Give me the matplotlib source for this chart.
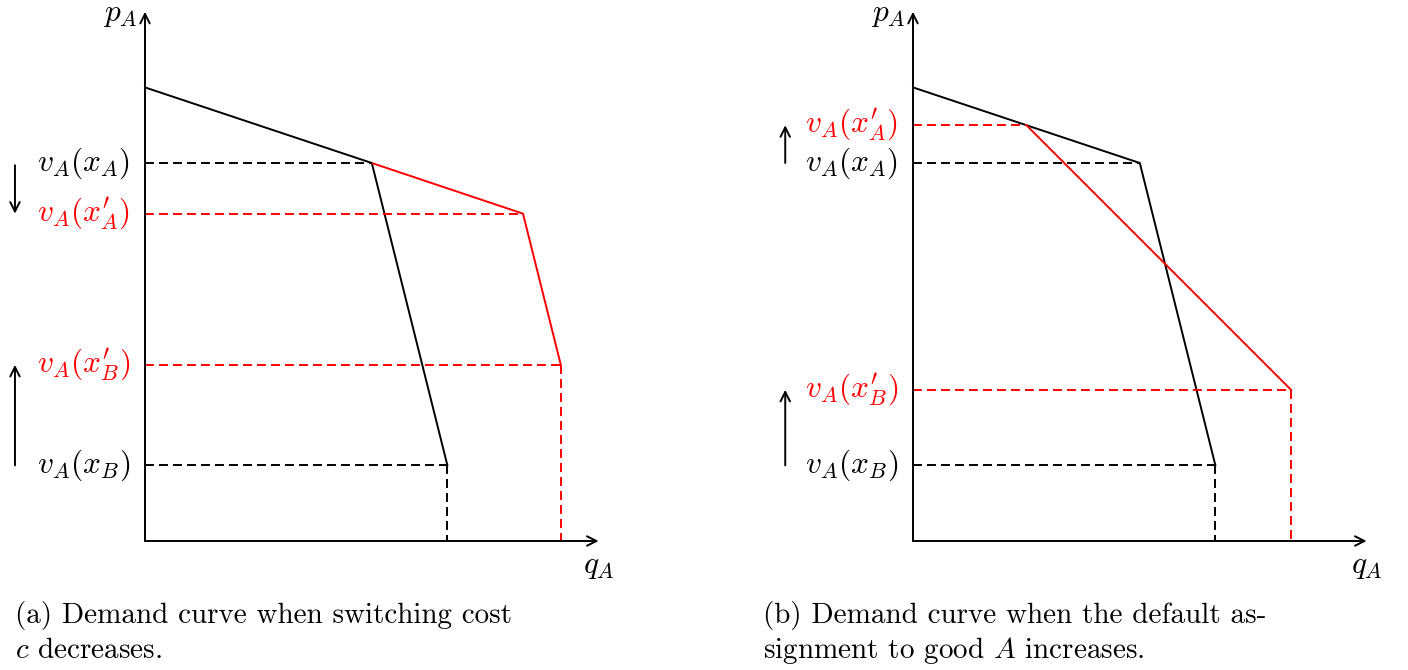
import matplotlib
matplotlib.use("Agg")
import matplotlib.pyplot as plt

plt.rcParams['mathtext.fontset'] = 'cm'
plt.rcParams['font.family'] = ['cmr10', 'DejaVu Serif']

# diagram data (tikz units)
axis_top = 7.0
axis_right = 6.0
black_curve_q = [0, 3, 4]
black_curve_p = [6, 5, 1]

red_a_q = [3, 5, 5.5]
red_a_p = [5, 4.33, 2.33]

red_b_q = [1.5, 5]
red_b_p = [5.5, 2]

labels_a = [r'$v_A(x_A)$', r"$v_A(x^{\prime}_A)$", r"$v_A(x^{\prime}_B)$", r'$v_A(x_B)$']
levels_a = [5, 4.33, 2.33, 1]
colors_a = ['black', 'red', 'red', 'black']

labels_b = [r"$v_A(x^{\prime}_A)$", r'$v_A(x_A)$', r"$v_A(x^{\prime}_B)$", r'$v_A(x_B)$']
levels_b = [5.5, 5, 2, 1]
colors_b = ['red', 'black', 'red', 'black']

captions = [["(a) Demand curve when switching cost", "$c$ decreases."],
            ["(b) Demand curve when the default as-", "signment to good $A$ increases."]]

W, H = 1408, 670
scale = 75.6  # px per unit
fig = plt.figure(figsize=(W / 100, H / 100), dpi=100)

LW = 1.4
DASH = (0, (4.6, 2.6))
FS = 22.5


def make_axes(px0, px1, origin_x, origin_y=541):
    ax = fig.add_axes([px0 / W, 0, (px1 - px0) / W, 1])
    ax.set_xlim((px0 - origin_x) / scale, (px1 - origin_x) / scale)
    ax.set_ylim((origin_y - H) / scale, origin_y / scale)
    ax.axis('off')
    return ax


def arrow(ax, x0, y0, x1, y1):
    ax.annotate('', xy=(x1, y1), xytext=(x0, y0),
                arrowprops=dict(arrowstyle='->', lw=LW, color='black',
                                shrinkA=0, shrinkB=0, mutation_scale=17))


def draw_axes(ax):
    arrow(ax, 0, 0, 0, axis_top)
    arrow(ax, 0, 0, axis_right, 0)
    ax.text(-0.1, axis_top - 0.04, r'$p_A$', ha='right', va='center', fontsize=FS)
    ax.text(axis_right, -0.16, r'$q_A$', ha='center', va='top', fontsize=FS)


# panel (a)
ax1 = make_axes(0, 704, 145)
draw_axes(ax1)
ax1.plot(black_curve_q, black_curve_p, color='black', lw=LW)
ax1.plot(red_a_q, red_a_p, color='red', lw=LW)
ax1.plot([0, black_curve_q[1]], [black_curve_p[1]] * 2, color='black', lw=LW, ls=DASH)
ax1.plot([0, black_curve_q[2]], [black_curve_p[2]] * 2, color='black', lw=LW, ls=DASH)
ax1.plot([black_curve_q[2]] * 2, [black_curve_p[2], 0], color='black', lw=LW, ls=DASH)
ax1.plot([0, red_a_q[1]], [red_a_p[1]] * 2, color='red', lw=LW, ls=DASH)
ax1.plot([0, red_a_q[2]], [red_a_p[2]] * 2, color='red', lw=LW, ls=DASH)
ax1.plot([red_a_q[2]] * 2, [red_a_p[2], 0], color='red', lw=LW, ls=DASH)
for lab, lev, col in zip(labels_a, levels_a, colors_a):
    ax1.text(-0.2, lev, lab, ha='right', va='center', color=col, fontsize=FS)
arrow(ax1, -1.72, 4.97, -1.72, 4.33)
arrow(ax1, -1.72, 1.0, -1.72, 2.33)

# panel (b)
ax2 = make_axes(704, 1408, 913)
draw_axes(ax2)
ax2.plot(black_curve_q, black_curve_p, color='black', lw=LW)
ax2.plot(red_b_q, red_b_p, color='red', lw=LW)
ax2.plot([0, black_curve_q[1]], [black_curve_p[1]] * 2, color='black', lw=LW, ls=DASH)
ax2.plot([0, black_curve_q[2]], [black_curve_p[2]] * 2, color='black', lw=LW, ls=DASH)
ax2.plot([black_curve_q[2]] * 2, [black_curve_p[2], 0], color='black', lw=LW, ls=DASH)
ax2.plot([0, red_b_q[0]], [red_b_p[0]] * 2, color='red', lw=LW, ls=DASH)
ax2.plot([0, red_b_q[1]], [red_b_p[1]] * 2, color='red', lw=LW, ls=DASH)
ax2.plot([red_b_q[1]] * 2, [red_b_p[1], 0], color='red', lw=LW, ls=DASH)
for lab, lev, col in zip(labels_b, levels_b, colors_b):
    ax2.text(-0.2, lev, lab, ha='right', va='center', color=col, fontsize=FS)
arrow(ax2, -1.69, 5.0, -1.69, 5.5)
arrow(ax2, -1.69, 1.0, -1.69, 2.0)

# captions, one line at a time on fixed baselines
for x0, lines in zip([15, 763], captions):
    for base, line in zip([623, 658], lines):
        fig.text(x0 / W, 1 - base / H, line, ha='left', va='baseline', fontsize=21)

fig.savefig('out.png', dpi=100)
